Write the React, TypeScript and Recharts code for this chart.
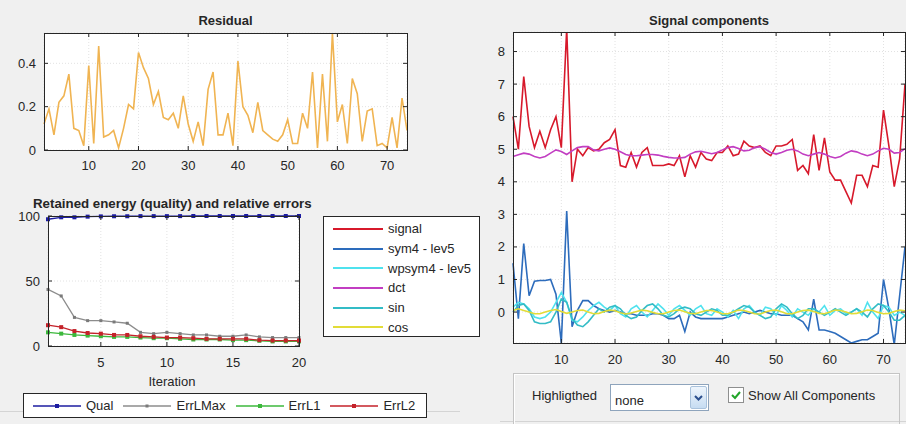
import React from 'react';
import { LineChart, Line, XAxis, YAxis, CartesianGrid } from 'recharts';

const FONT = '"Liberation Sans", Arial, sans-serif';
const INK = '#262626';

// ---- residual (samples 1..74)
const residual = [
  0.12, 0.19, 0.07, 0.22, 0.25, 0.35, 0.1, 0.09, 0.02, 0.39,
  0.03, 0.48, 0.06, 0.07, 0.09, 0.01, 0.1, 0.21, 0.19, 0.45,
  0.38, 0.33, 0.21, 0.27, 0.15, 0.14, 0.17, 0.1, 0.25, 0.12,
  0.04, 0.13, 0.02, 0.28, 0.36, 0.07, 0.07, 0.17, 0.02, 0.41,
  0.2, 0.16, 0.08, 0.22, 0.09, 0.07, 0.05, 0.04, 0.07, 0.14,
  0.03, 0.03, 0.17, 0.1, 0.36, 0.01, 0.35, 0.04, 0.54, 0.13,
  0.21, 0.03, 0.33, 0.26, 0.04, 0.18, 0.19, 0.02, 0.03, 0.01,
  0.15, 0.01, 0.24, 0.09,
];
const sampleIdx = residual.map((_, k) => k + 1);
const sampleTicks = [10, 20, 30, 40, 50, 60, 70];
const residualTicks = [0, 0.2, 0.4];

// ---- retained energy / errors (iterations 1..20)
const iterations = [1, 2, 3, 4, 5, 6, 7, 8, 9, 10, 11, 12, 13, 14, 15, 16, 17, 18, 19, 20];
const qual = [97.5, 99, 99, 99.5, 99.7, 99.8, 99.8, 99.9, 99.9, 99.9, 99.9, 100, 100, 100, 100, 100, 100, 100, 100, 100];
const errLMax = [43.5, 38.5, 22, 19.5, 19.5, 18.5, 17.5, 10.5, 9.5, 10.5, 9.5, 8.5, 8.5, 7.5, 7.5, 8.5, 7, 6.5, 6.5, 6.5];
const errL1 = [10.5, 9.5, 8.5, 8, 7.5, 7, 7, 6.5, 6, 6, 5.5, 5, 5, 5, 4.5, 4.5, 4, 3.5, 3.5, 3.5];
const errL2 = [16, 14.5, 11.5, 10, 9.5, 8.5, 8.5, 7.5, 7, 6.5, 6.5, 6, 5.5, 5.5, 5.5, 5.5, 4.5, 4.2, 4.2, 4.2];
const iterTicks = [5, 10, 15, 20];
const pctTicks = [0, 50, 100];

// ---- signal components (samples 1..74)
const signal = [
  6.0, 5.0, 7.23, 5.7, 5.05, 5.55, 5.05, 5.6, 6.0, 5.05,
  8.7, 4.0, 5.0, 4.8, 5.05, 4.95, 5.0, 5.2, 5.3, 5.6,
  4.5, 4.45, 4.9, 4.45, 4.9, 5.05, 4.5, 4.5, 4.5, 4.55,
  4.5, 4.8, 4.15, 4.8, 4.45, 4.9, 4.7, 4.65, 4.9, 4.9,
  5.1, 4.8, 4.85, 5.25, 5.1, 5.05, 5.1, 4.9, 4.8, 5.1,
  5.1, 5.15, 5.3, 4.35, 4.5, 4.25, 5.45, 4.35, 5.35, 4.3,
  4.05, 4.05, 3.7, 3.35, 4.2, 4.2, 3.85, 4.5, 4.45, 6.2,
  5.1, 3.85, 4.7, 7.0,
];
const sym4 = [
  1.5, -0.2, 2.1, 0.5, 0.95, 0.97, 0.97, 1.0, 0.55, -0.95,
  3.1, -0.45, 0.05, 0.35, 0.35, 0.2, 0.1, 0.05, 0.0, 0.05,
  0.0, -0.05, -0.05, -0.1, -0.1, -0.1, -0.05, -0.05, -0.1, -0.2,
  -0.2, -0.1, -0.6, 0.0, -0.15, -0.2, -0.2, -0.2, -0.2, -0.2,
  -0.15, -0.1, -0.05, 0.0, -0.05, 0.0, 0.05, 0.0, -0.05, -0.05,
  -0.1, -0.1, -0.1, -0.2, -0.3, -0.55, 0.4, -0.55, -0.55, -0.6,
  -0.65, -0.75, -0.85, -0.95, -0.9, -0.85, -0.85, -0.75, -0.65, 1.0,
  0.1, -1.0, 0.5, 2.0,
];
const wpsym4 = [
  0.15, 0.3, 0.25, 0.1, -0.15, -0.2, -0.15, 0.0, 0.3, 0.6,
  0.3, -0.25, -0.3, -0.15, 0.05, 0.2, 0.3, 0.15, 0.05, 0.2,
  -0.05, -0.15, 0.1, 0.2, 0.0, -0.15, 0.05, 0.25, 0.1, -0.1,
  0.1, 0.2, 0.05, -0.1, 0.1, 0.2, -0.05, -0.1, 0.1, 0.0,
  -0.15, 0.05, -0.2, 0.1, 0.2, 0.0, -0.1, 0.15, 0.1, -0.1,
  0.2, 0.05, -0.15, 0.1, 0.0, -0.1, 0.1, 0.0, 0.2, -0.1,
  0.05, 0.1, -0.05, 0.0, 0.1, -0.1, 0.3, 0.0, -0.2, 0.2,
  0.15, -0.1, 0.0, -0.1,
];
const dct = [
  4.78, 4.83, 4.88, 4.85, 4.78, 4.73, 4.78, 4.88, 4.98, 4.93,
  4.84, 4.95, 5.05, 5.08, 5.08, 4.98, 4.95, 5.0, 5.04, 5.0,
  4.92, 4.84, 4.8, 4.8, 4.82, 4.84, 4.84, 4.82, 4.78, 4.75,
  4.73, 4.73, 4.75, 4.85, 4.92, 4.94, 4.9, 4.86, 4.9, 4.98,
  5.05, 5.08, 5.02, 4.95, 4.97, 5.05, 5.08, 5.0, 4.9, 4.85,
  4.9, 4.97, 5.0, 4.95, 4.85, 4.8, 4.85, 4.9, 4.85, 4.78,
  4.73, 4.78, 4.88, 4.95, 4.92, 4.85, 4.8, 4.85, 4.95, 5.03,
  5.0, 4.88, 4.9, 5.02,
];
const sinPart = [
  0.0, 0.2, 0.25, 0.05, -0.3, -0.35, -0.35, -0.3, 0.0, 0.4,
  0.3, -0.2, -0.4, -0.45, -0.3, -0.1, 0.1, 0.0, 0.15, 0.2,
  0.1, -0.1, -0.2, -0.15, 0.05, 0.2, 0.25, 0.1, -0.1, -0.15,
  -0.05, 0.1, 0.15, 0.1, -0.05, -0.1, 0.0, 0.1, 0.05, -0.1,
  -0.1, 0.0, 0.1, 0.2, 0.15, 0.0, -0.1, -0.2, -0.15, 0.1,
  0.25, 0.15, -0.05, -0.2, -0.1, 0.1, 0.1, 0.0, -0.1, 0.0,
  0.1, 0.0, -0.1, 0.0, 0.1, 0.0, -0.15, 0.1, 0.25, 0.2,
  0.0, -0.25, -0.25, -0.1,
];
const cosPart = [
  0.05, 0.1, 0.05, 0.0, -0.05, -0.05, 0.0, 0.05, 0.08, 0.02,
  -0.04, 0.0, 0.05, 0.06, 0.0, -0.05, -0.04, 0.02, 0.06, 0.04,
  -0.02, -0.06, -0.03, 0.02, 0.06, 0.04, -0.01, -0.05, -0.05, 0.0,
  0.05, 0.06, 0.01, -0.04, -0.05, 0.0, 0.05, 0.05, 0.0, -0.05,
  -0.05, 0.0, 0.06, 0.05, 0.0, -0.05, -0.06, 0.0, 0.05, 0.06,
  0.01, -0.05, -0.05, 0.0, 0.05, 0.06, 0.02, -0.04, -0.05, 0.0,
  0.06, 0.05, 0.0, -0.05, -0.04, 0.01, 0.06, 0.05, -0.01, -0.05,
  -0.04, 0.02, 0.06, 0.04,
];
const componentTicks = [0, 1, 2, 3, 4, 5, 6, 7, 8];

const components = [
  { key: 'signal', name: 'signal', color: '#d7192b', values: signal },
  { key: 'sym4', name: 'sym4 - lev5', color: '#2d6cbc', values: sym4 },
  { key: 'wpsym4', name: 'wpsym4 - lev5', color: '#4fe2ee', values: wpsym4 },
  { key: 'dct', name: 'dct', color: '#c23ec2', values: dct },
  { key: 'sin', name: 'sin', color: '#33bcc6', values: sinPart },
  { key: 'cos', name: 'cos', color: '#e2dc38', values: cosPart },
];

const errSeries = [
  { key: 'qual', name: 'Qual', color: '#1c1ca0', values: qual, marker: 'square' },
  { key: 'errLMax', name: 'ErrLMax', color: '#8c8c8c', values: errLMax, marker: 'dot' },
  { key: 'errL1', name: 'ErrL1', color: '#3cb83c', values: errL1, marker: 'square' },
  { key: 'errL2', name: 'ErrL2', color: '#c4222a', values: errL2, marker: 'square' },
];

const residualData = sampleIdx.map((i, k) => ({ i, residual: residual[k] }));
const componentData = sampleIdx.map((i, k) => {
  const row: Record<string, number> = { i };
  components.forEach((c) => (row[c.key] = c.values[k]));
  return row;
});
const errData = iterations.map((i, k) => {
  const row: Record<string, number> = { i };
  errSeries.forEach((s) => (row[s.key] = s.values[k]));
  return row;
});

type Box = { left: number; right: number; top: number; bottom: number };

// MATLAB-style ticks: inward, on both sides of the box
function xTick(box: Box, below = 20) {
  return (props: any) => {
    const { x, payload } = props;
    return (
      <g key={`xt-${payload.value}`}>
        <line x1={x} x2={x} y1={box.bottom} y2={box.bottom - 4} stroke={INK} />
        <line x1={x} x2={x} y1={box.top} y2={box.top + 4} stroke={INK} />
        <text x={x} y={box.bottom + below} textAnchor="middle" fontSize={13} fill={INK} fontFamily={FONT}>
          {payload.value}
        </text>
      </g>
    );
  };
}

function yTick(box: Box) {
  return (props: any) => {
    const { y, payload } = props;
    return (
      <g key={`yt-${payload.value}`}>
        <line x1={box.left} x2={box.left + 4} y1={y} y2={y} stroke={INK} />
        <line x1={box.right} x2={box.right - 4} y1={y} y2={y} stroke={INK} />
        <text x={box.left - 8} y={y + 4.5} textAnchor="end" fontSize={13} fill={INK} fontFamily={FONT}>
          {payload.value}
        </text>
      </g>
    );
  };
}

function Frame({ left, top, box }: { left: number; top: number; box: Box }) {
  return (
    <div
      style={{
        position: 'absolute',
        left: left + box.left,
        top: top + box.top,
        width: box.right - box.left + 1,
        height: box.bottom - box.top + 1,
        border: `1px solid ${INK}`,
        boxSizing: 'border-box',
        pointerEvents: 'none',
      }}
    />
  );
}

function Title({ x, y, w, children, bold = true }: any) {
  return (
    <div
      style={{
        position: 'absolute',
        left: x,
        top: y - 8,
        width: w,
        lineHeight: '16px',
        textAlign: 'center',
        fontSize: 13,
        fontWeight: bold ? 700 : 400,
        color: INK,
        whiteSpace: 'nowrap',
      }}
    >
      {children}
    </div>
  );
}

const grid = <CartesianGrid stroke="#e2e2e2" strokeDasharray="1 2" fill="#ffffff" />;

function squareDot(color: string, size: number) {
  return (p: any) => (
    <rect key={`d-${p.index}`} x={p.cx - size / 2} y={p.cy - size / 2} width={size} height={size} fill={color} />
  );
}

export default function App() {
  // plot boxes in each chart's own coordinates
  const resBox = { left: 44, right: 407, top: 33, bottom: 150 };
  const errBox = { left: 48, right: 299, top: 36, bottom: 166 };
  const cmpBox = { left: 53, right: 445, top: 32, bottom: 343 };

  return (
    <div
      style={{
        position: 'absolute',
        left: 0,
        top: 0,
        width: 906,
        height: 424,
        overflow: 'hidden',
        background: '#f0f0f0',
        fontFamily: FONT,
        color: INK,
      }}
    >
      {/* Residual */}
      <Title x={resBox.left} y={21} w={resBox.right - resBox.left}>Residual</Title>
      <div style={{ position: 'absolute', left: 0, top: 0 }}>
        <LineChart width={460} height={180} data={residualData} margin={{ top: 33, right: 53, left: 0, bottom: 0 }}>
          {grid}
          <XAxis type="number" dataKey="i" domain={[1, 74]} ticks={sampleTicks} interval={0} height={30}
            axisLine={false} tickLine={false} tickSize={0} tickMargin={0} tick={xTick(resBox, 20)} />
          <YAxis type="number" domain={[0, 0.54]} allowDataOverflow ticks={residualTicks} interval={0} width={44}
            axisLine={false} tickLine={false} tickSize={0} tickMargin={0} tick={yTick(resBox)} />
          <Line type="linear" dataKey="residual" stroke="#f0b452" strokeWidth={1.6} dot={false} isAnimationActive={false} />
        </LineChart>
      </div>
      <Frame left={0} top={0} box={resBox} />

      {/* Retained energy */}
      <div style={{ position: 'absolute', left: 0, top: 196, width: 350, lineHeight: '16px', textAlign: 'left', paddingLeft: 33, fontSize: 13.3, fontWeight: 700, whiteSpace: 'nowrap' }}>
        Retained energy (quality) and relative errors
      </div>
      <div style={{ position: 'absolute', left: 0, top: 180 }}>
        <LineChart width={320} height={200} data={errData} margin={{ top: 36, right: 21, left: 0, bottom: 0 }}>
          {grid}
          <XAxis type="number" dataKey="i" domain={[1, 20]} ticks={iterTicks} interval={0} height={34}
            axisLine={false} tickLine={false} tickSize={0} tickMargin={0} tick={xTick(errBox, 21)} />
          <YAxis type="number" domain={[0, 100]} ticks={pctTicks} interval={0} width={48}
            axisLine={false} tickLine={false} tickSize={0} tickMargin={0} tick={yTick(errBox)} />
          {errSeries.map((s) => (
            <Line key={s.key} type="linear" dataKey={s.key} stroke={s.color} strokeWidth={1.3}
              dot={s.marker === 'square' ? squareDot(s.color, 4) : squareDot('#7a7a7a', 3)}
              isAnimationActive={false} />
          ))}
        </LineChart>
      </div>
      <Frame left={0} top={180} box={errBox} />
      <Title x={130} y={382} w={84} bold={false}>Iteration</Title>

      {/* separators */}
      <div style={{ position: 'absolute', left: 0, top: 411, width: 460, height: 1, background: '#d4d4d4' }} />
      <div style={{ position: 'absolute', left: 500, top: 421, width: 406, height: 1, background: '#d4d4d4' }} />

      {/* errors legend */}
      <div style={{ position: 'absolute', left: 23, top: 393, width: 404, height: 25, boxSizing: 'border-box', border: '1px solid #262626', background: '#fff', display: 'flex', alignItems: 'center', paddingLeft: 9, fontSize: 13 }}>
        {errSeries.map((s) => (
          <div key={s.key} style={{ display: 'flex', alignItems: 'center', marginRight: 10 }}>
            <svg width={48} height={10}>
              <line x1={0} x2={48} y1={5} y2={5} stroke={s.color} strokeWidth={1.5} />
              {s.marker === 'square'
                ? <rect x={22} y={3} width={4} height={4} fill={s.color} />
                : <rect x={22.5} y={3.5} width={3} height={3} fill="#7a7a7a" />}
            </svg>
            <span style={{ marginLeft: 5 }}>{s.name}</span>
          </div>
        ))}
      </div>

      {/* components legend */}
      <div style={{ position: 'absolute', left: 323, top: 216, width: 157, height: 121, boxSizing: 'border-box', border: '1px solid #262626', background: '#fff', paddingTop: 2, fontSize: 13 }}>
        {components.map((c) => (
          <div key={c.key} style={{ display: 'flex', alignItems: 'center', height: 19.7, whiteSpace: 'nowrap' }}>
            <svg width={50} height={6} style={{ marginLeft: 9 }}>
              <line x1={0} x2={50} y1={3} y2={3} stroke={c.color} strokeWidth={2} />
            </svg>
            <span style={{ marginLeft: 5 }}>{c.name}</span>
          </div>
        ))}
      </div>

      {/* Signal components */}
      <Title x={460 + cmpBox.left} y={21} w={cmpBox.right - cmpBox.left}>Signal components</Title>
      <div style={{ position: 'absolute', left: 460, top: 0 }}>
        <LineChart width={446} height={380} data={componentData} margin={{ top: 32, right: 1, left: 0, bottom: 0 }}>
          {grid}
          <XAxis type="number" dataKey="i" domain={[1, 74]} ticks={sampleTicks} interval={0} height={37}
            axisLine={false} tickLine={false} tickSize={0} tickMargin={0} tick={xTick(cmpBox, 21)} />
          <YAxis type="number" domain={[-0.95, 8.6]} allowDataOverflow ticks={componentTicks} interval={0} width={53}
            axisLine={false} tickLine={false} tickSize={0} tickMargin={0} tick={yTick(cmpBox)} />
          {components.map((c) => (
            <Line key={c.key} type="linear" dataKey={c.key} stroke={c.color} strokeWidth={1.6} dot={false} isAnimationActive={false} />
          ))}
        </LineChart>
      </div>
      <Frame left={460} top={0} box={cmpBox} />

      {/* controls panel */}
      <div style={{ position: 'absolute', left: 513, top: 373, width: 387, height: 70, boxSizing: 'border-box', border: '1px solid #c4c4c4', boxShadow: 'inset 1px 1px 0 #ffffff' }} />
      <div style={{ position: 'absolute', left: 532, top: 388, lineHeight: '16px', fontSize: 13 }}>Highligthed</div>
      <div style={{ position: 'absolute', left: 610, top: 384, width: 99, height: 27, boxSizing: 'border-box', border: '1px solid #8ea4bc', background: '#fff' }}>
        <div style={{ position: 'absolute', left: 4, top: 8, lineHeight: '16px', fontSize: 13 }}>none</div>
        <div style={{ position: 'absolute', right: 1, top: 1, width: 17, height: 23, boxSizing: 'border-box', border: '1px solid #a9c2dc', borderRadius: 2, background: 'linear-gradient(#eef5fc, #c6dcf2)' }}>
          <svg width={15} height={21} style={{ position: 'absolute', left: 0, top: 0 }}>
            <polyline points="4,9 7.5,12.5 11,9" fill="none" stroke="#2b4f8e" strokeWidth={2} />
          </svg>
        </div>
      </div>
      <div style={{ position: 'absolute', left: 728, top: 387, width: 16, height: 16, boxSizing: 'border-box', border: '1px solid #8e8f8f', background: '#fff' }}>
        <svg width={14} height={14} style={{ position: 'absolute', left: 0, top: 0 }}>
          <polyline points="3,7 6,10 11,4" fill="none" stroke="#22a52a" strokeWidth={2} />
        </svg>
      </div>
      <div style={{ position: 'absolute', left: 748, top: 388, lineHeight: '16px', fontSize: 13 }}>Show All Components</div>
    </div>
  );
}
